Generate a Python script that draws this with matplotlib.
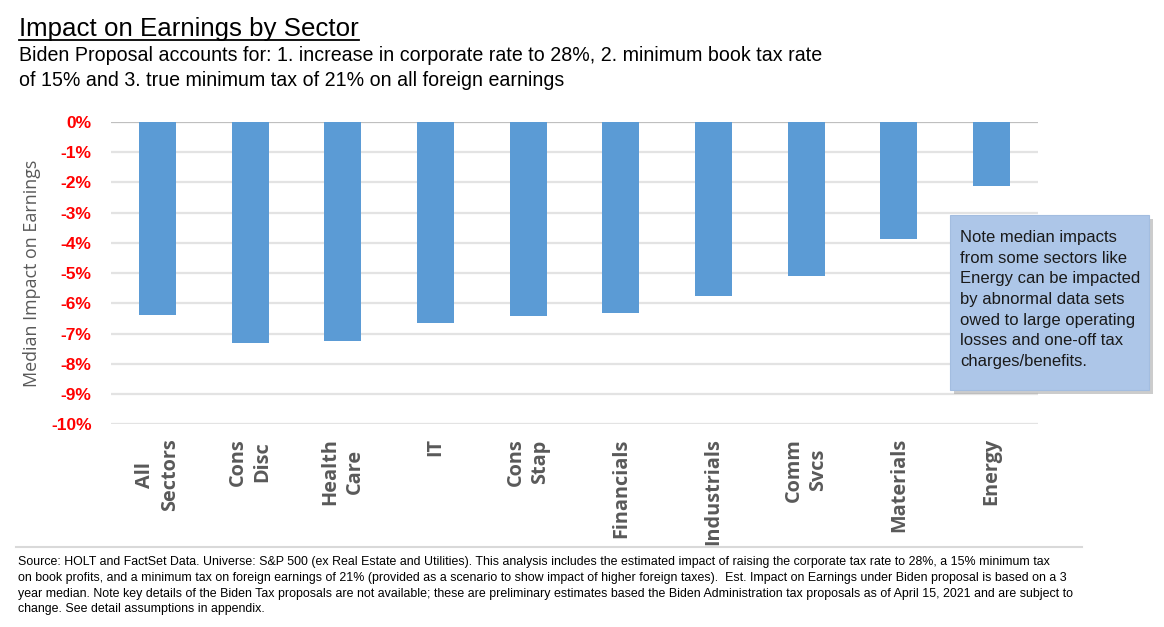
import matplotlib
matplotlib.use("Agg")
import matplotlib.pyplot as plt
from matplotlib.patches import Rectangle

categories = ["All\nSectors", "Cons\nDisc", "Health\nCare", "IT", "Cons\nStap",
              "Financials", "Industrials", "Comm\nSvcs", "Materials", "Energy"]
impact = [-6.37, -7.30, -7.23, -6.65, -6.41, -6.31, -5.75, -5.08, -3.86, -2.11]
yticks = [0, -1, -2, -3, -4, -5, -6, -7, -8, -9, -10]
ytick_labels = ["0%", "-1%", "-2%", "-3%", "-4%", "-5%", "-6%", "-7%", "-8%", "-9%", "-10%"]

title = "Impact on Earnings by Sector"
subtitle_lines = ["Biden Proposal accounts for: 1. increase in corporate rate to 28%, 2. minimum book tax rate",
                  "of 15% and 3. true minimum tax of 21% on all foreign earnings"]
note = ("Note median impacts\nfrom some sectors like\nEnergy can be impacted\nby abnormal data sets\n"
        "owed to large operating\nlosses and one-off tax\ncharges/benefits.")
source = ("Source: HOLT and FactSet Data. Universe: S&P 500 (ex Real Estate and Utilities). This analysis includes the estimated impact of raising the corporate tax rate to 28%, a 15% minimum tax\n"
          "on book profits, and a minimum tax on foreign earnings of 21% (provided as a scenario to show impact of higher foreign taxes).  Est. Impact on Earnings under Biden proposal is based on a 3\n"
          "year median. Note key details of the Biden Tax proposals are not available; these are preliminary estimates based the Biden Administration tax proposals as of April 15, 2021 and are subject to\n"
          "change. See detail assumptions in appendix.")

W, H = 1164, 627
fig = plt.figure(figsize=(W / 100, H / 100), dpi=100)
fig.patch.set_facecolor("white")

def fx(px):
    return px / W

def fy(py):
    return 1 - py / H

ax = fig.add_axes([fx(111), fy(424.3), fx(1038) - fx(111), fy(122) - fy(424.3)])
x = list(range(len(categories)))
ax.bar(x, impact, width=0.4, color="#5b9bd5", zorder=3)
ax.set_xlim(-0.5, len(categories) - 0.5)
ax.set_ylim(-10, 0)
ax.set_yticks(yticks)
ax.set_yticklabels(ytick_labels, color="#ff0000", fontweight="bold",
                   fontsize=12.5, family=["Liberation Sans"])
for t in yticks:
    ax.axhline(t, color="#bfbfbf" if t == 0 else "#e3e3e3", lw=1.6, zorder=1)
for s in ax.spines.values():
    s.set_visible(False)
ax.tick_params(axis="y", length=0, pad=14)
ax.tick_params(axis="x", length=0, pad=10)
ax.set_xticks(x)
ax.set_xticklabels(categories, rotation=90, va="top", ha="center", ma="center",
                   color="#595959", fontweight="bold", fontsize=14.3,
                   family=["Open Sans"], linespacing=1.3)
ax.set_ylabel("Median Impact on Earnings", color="#595959", fontsize=12.9,
              family=["Open Sans"])
ax.yaxis.set_label_coords(-0.0755, 0.5)

# Title and subtitle
t = fig.text(fx(19), fy(36), title, fontsize=18.6, family=["Liberation Sans"],
             color="#000000", va="baseline", ha="left")
fig.canvas.draw()
bb = t.get_window_extent()
fig.add_artist(plt.Line2D([bb.x0 / W, bb.x1 / W], [fy(39.5), fy(39.5)],
                          transform=fig.transFigure, color="black", lw=1.3))
for i, line in enumerate(subtitle_lines):
    fig.text(fx(19), fy(61 + 25 * i), line, fontsize=14.1, family=["Liberation Sans"],
             color="#000000", va="baseline", ha="left")

# Note box with shadow
bx0, by0, bx1, by1 = 950, 215, 1149, 390
fig.add_artist(Rectangle((fx(bx0 + 4), fy(by1 + 4)), fx(bx1 - bx0), fy(by0) - fy(by1),
                         transform=fig.transFigure, facecolor="#9a9a9a", edgecolor="none",
                         alpha=0.5, zorder=4))
fig.add_artist(Rectangle((fx(bx0), fy(by1)), fx(bx1 - bx0), fy(by0) - fy(by1),
                         transform=fig.transFigure, facecolor="#adc6e8", edgecolor="#a3bde0",
                         lw=0.8, zorder=5))
fig.text(fx(960), fy(230), note, fontsize=12, family=["Liberation Sans"],
         color="#1a1a1a", va="top", ha="left", linespacing=1.47, zorder=6)

# separator line above source
fig.add_artist(plt.Line2D([fx(16), fx(1082)], [fy(547), fy(547)],
                          transform=fig.transFigure, color="#d9d9d9", lw=1.5))
fig.text(fx(18), fy(556), source, fontsize=8.95, family=["Liberation Sans"],
         color="#000000", va="top", ha="left", linespacing=1.42)

fig.savefig("out.png", dpi=100, facecolor="white")
